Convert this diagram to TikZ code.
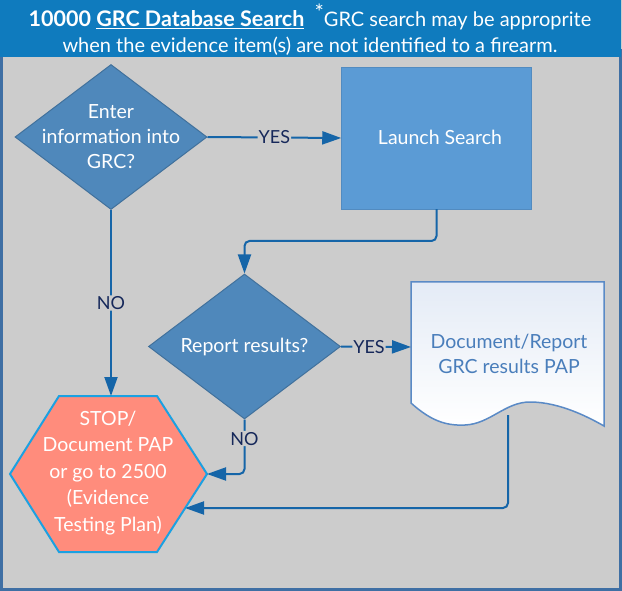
\documentclass[tikz,border=0pt]{standalone}
\usepackage{fontspec}
\setmainfont{Lato}
\usetikzlibrary{shapes.geometric,arrows.meta}
\definecolor{bggray}{HTML}{CCCCCC}
\definecolor{framec}{HTML}{3F6FA4}
\definecolor{headc}{HTML}{0F7BBE}
\definecolor{diaf}{HTML}{4F88BB}
\definecolor{diad}{HTML}{41719C}
\definecolor{rectf}{HTML}{5B9BD5}
\definecolor{hexf}{HTML}{FF8C7C}
\definecolor{hexd}{HTML}{1BA1E2}
\definecolor{docd}{HTML}{5A8AC6}
\definecolor{doct}{HTML}{4A7EBB}
\definecolor{docg}{HTML}{E4EBF6}
\definecolor{linec}{HTML}{1565A8}
\definecolor{labc}{HTML}{16285A}
\tikzset{
  decision/.style={diamond, fill=diaf, draw=diad, line width=1pt, inner sep=0pt, minimum width=192pt, minimum height=145pt, aspect=1.32},
  whitetxt/.style={text=white, align=center, font=\fontsize{19.5}{25}\selectfont},
  conn/.style={draw=linec, line width=2pt, -{Triangle[length=19pt,width=13pt]}, rounded corners=5pt},
  lab/.style={text=labc, fill=bggray, inner sep=1pt, font=\fontsize{18}{20}\selectfont},
}
\begin{document}
\begin{tikzpicture}[x=1pt,y=-1pt]
\useasboundingbox (0,0) rectangle (622,591);
% frame and header
\fill[bggray] (0,0) rectangle (622,591);
\draw[framec, line width=2.5pt] (1.5,50) rectangle (620.5,589.5);
\fill[headc] (0,0) rectangle (621,57);
\node[text=white, font=\fontsize{20}{22}\selectfont] (h1) at (310,17)
  {{\fontsize{21.5}{23}\selectfont\textbf{10000 \underline{GRC Database Search}}}\ \ \raisebox{6pt}{\fontsize{22}{22}\selectfont *}GRC search may be approprite};
\node[text=white, font=\fontsize{20}{22}\selectfont] (h2) at (310,46)
  {when the evidence item(s) are not identified to a firearm.};

% decision 1
\node[decision] (d1) at (111,137) {};
\node[whitetxt] (d1t) at (d1) {Enter\\information into\\GRC?};
% launch search
\node[fill=rectf, draw=rectf!90!black, line width=0.5pt, minimum width=190pt, minimum height=142pt, inner sep=0pt] (ls) at (436.5,138) {};
\node[whitetxt] (lst) at (440,137) {Launch Search};
% decision 2
\node[decision] (d2) at (244.5,346.5) {};
\node[whitetxt] (d2t) at (d2) {Report results?};
% document
\fill[top color=docg, bottom color=white, draw=docd, line width=1.5pt]
  (411,282) -- (604,282) -- (604,426)
  .. controls (590,418) and (560,402) .. (530,402)
  .. controls (505,402) and (490,424) .. (465,425)
  .. controls (445,426) and (430,420) .. (411,403) -- cycle;
\coordinate (docL) at (411,347);
\coordinate (docB) at (508,415);
\node[text=doct, align=center, font=\fontsize{19.5}{25}\selectfont] (doc) at (509,354) {Document/Report\\GRC results PAP};
% hexagon
\coordinate (hL) at (10,474);
\coordinate (hTL) at (59,396);
\coordinate (hTR) at (157,396);
\coordinate (hR) at (207,474);
\coordinate (hBR) at (157,552);
\coordinate (hBL) at (59,552);
\filldraw[fill=hexf, draw=hexd, line width=2pt] (hL) -- (hTL) -- (hTR) -- (hR) -- (hBR) -- (hBL) -- cycle;
\node[whitetxt, font=\fontsize{19.5}{26.5}\selectfont] (stop) at (108,473) {STOP/\\Document PAP\\or go to 2500\\(Evidence\\Testing Plan)};
\coordinate (hIn) at (185,508);

% connectors
\draw[conn] (d1.east) -- node[lab] {YES} (ls.west);
\draw[conn] (ls.south) |- (244.5,241) -- (d2.north);
\draw[conn] (d2.east) -- node[lab, pos=0.4] {YES} (docL);
\draw[conn] (d1.south) -- node[lab] {NO} (111,396);
\draw[conn] (d2.south) -- node[lab, pos=0.35] {NO} (244.5,474) -- (hR);
\draw[conn] (docB) |- (hIn);
\end{tikzpicture}
\end{document}
